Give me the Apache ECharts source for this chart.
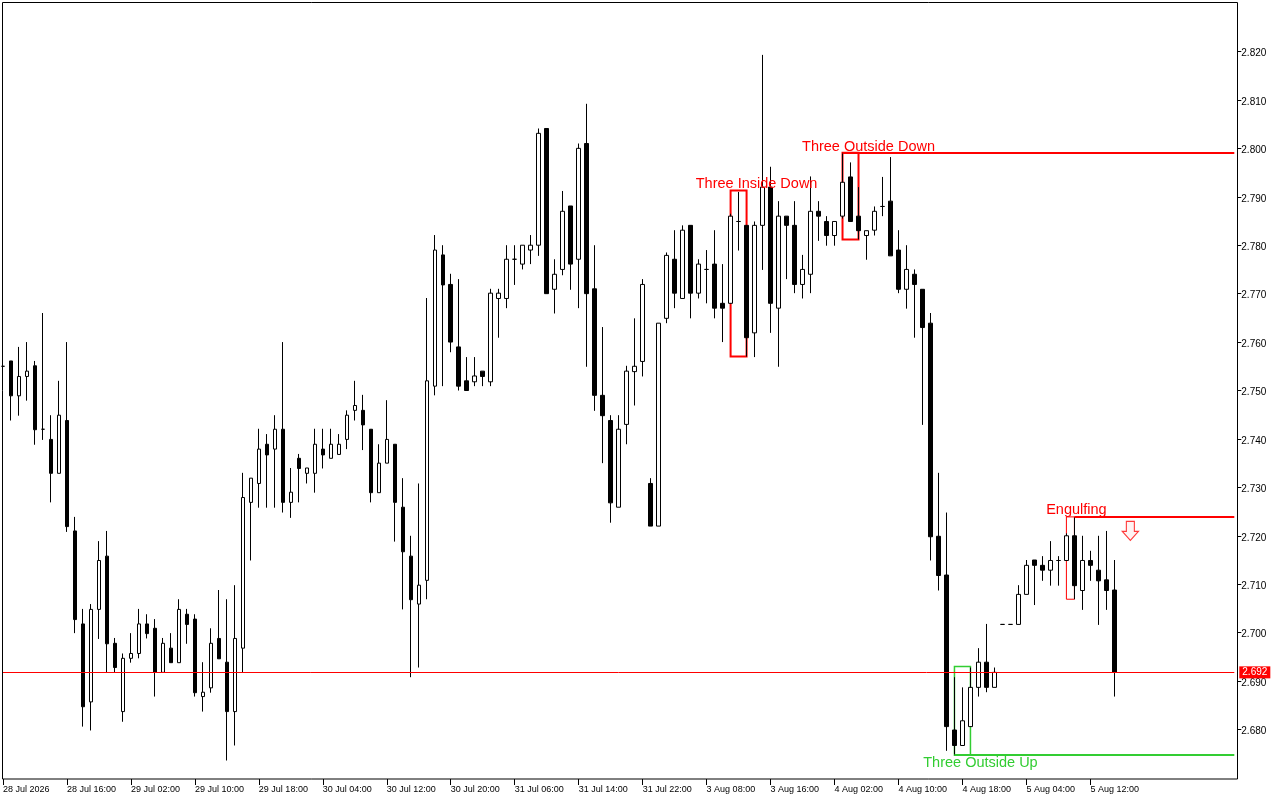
<!DOCTYPE html>
<html>
<head>
<meta charset="utf-8">
<script src="https://cdn.jsdelivr.net/npm/echarts@6/dist/echarts.min.js"></script>
<style>
  html, body { margin: 0; padding: 0; background: #fff; }
  #main { width: 1280px; height: 800px; }
</style>
</head>
<body>
<div id="main"></div>
<script>
// hourly candles, one tick label every 8 bars
const tickLabels = ["28 Jul 2026", "28 Jul 16:00", "29 Jul 02:00", "29 Jul 10:00", "29 Jul 18:00",
  "30 Jul 04:00", "30 Jul 12:00", "30 Jul 20:00", "31 Jul 06:00", "31 Jul 14:00", "31 Jul 22:00",
  "3 Aug 08:00", "3 Aug 16:00", "4 Aug 02:00", "4 Aug 10:00", "4 Aug 18:00", "5 Aug 04:00", "5 Aug 12:00"];

const opens = [2.7550, 2.7561, 2.7489, 2.7529, 2.7551, 2.7420, 2.7399, 2.7329, 2.7438, 2.7210,
  2.7018, 2.6857, 2.7048, 2.7158, 2.6978, 2.6837, 2.6947, 2.6957, 2.7018, 2.7009,
  2.6918, 2.6968, 2.6938, 2.7038, 2.7028, 2.6868, 2.6886, 2.6988, 2.6939, 2.6837,
  2.6968, 2.7269, 2.7308, 2.7389, 2.7379, 2.7420, 2.7269, 2.7360, 2.7329, 2.7329,
  2.7379, 2.7360, 2.7368, 2.7399, 2.7459, 2.7459, 2.7420, 2.7289, 2.7350, 2.7389,
  2.7259, 2.7158, 2.7059, 2.7108, 2.7509, 2.7780, 2.7719, 2.7590, 2.7520, 2.7518,
  2.7540, 2.7518, 2.7690, 2.7690, 2.7771, 2.7761, 2.7790, 2.7800, 2.8041, 2.7709,
  2.7750, 2.7881, 2.7771, 2.8010, 2.7710, 2.7490, 2.7438, 2.7259, 2.7430, 2.7539,
  2.7560, 2.7308, 2.7220, 2.7649, 2.7771, 2.7690, 2.7841, 2.7701, 2.7750, 2.7761,
  2.7680, 2.7680, 2.7849, 2.7841, 2.7619, 2.7841, 2.7920, 2.7670, 2.7860, 2.7841,
  2.7719, 2.7740, 2.7870, 2.7849, 2.7820, 2.7860, 2.7941, 2.7860, 2.7820, 2.7831,
  2.7880, 2.7891, 2.7790, 2.7709, 2.7740, 2.7709, 2.7639, 2.7199, 2.7119, 2.6799,
  2.6767, 2.6806, 2.6887, 2.6939, 2.6887, 2.7017, 2.7017, 2.7017, 2.7079, 2.7150,
  2.7139, 2.7129, 2.7149, 2.7149, 2.7200, 2.7087, 2.7149, 2.7129, 2.7109, 2.7088];

const highs = [2.7560, 2.7561, 2.7590, 2.7600, 2.7561, 2.7660, 2.7449, 2.7520, 2.7600, 2.7239,
  2.7049, 2.7059, 2.7189, 2.7210, 2.6989, 2.6957, 2.6999, 2.7049, 2.7038, 2.7028,
  2.6989, 2.6999, 2.7069, 2.7049, 2.7038, 2.6939, 2.7009, 2.7088, 2.7069, 2.7098,
  2.7330, 2.7319, 2.7421, 2.7410, 2.7449, 2.7600, 2.7340, 2.7369, 2.7340, 2.7421,
  2.7421, 2.7421, 2.7410, 2.7459, 2.7520, 2.7491, 2.7420, 2.7389, 2.7480, 2.7389,
  2.7319, 2.7200, 2.7308, 2.7691, 2.7821, 2.7800, 2.7741, 2.7730, 2.7569, 2.7569,
  2.7540, 2.7710, 2.7710, 2.7800, 2.7800, 2.7800, 2.7821, 2.8041, 2.8041, 2.7771,
  2.7912, 2.7881, 2.8010, 2.8092, 2.7800, 2.7631, 2.7449, 2.7449, 2.7551, 2.7649,
  2.7730, 2.7319, 2.7639, 2.7785, 2.7831, 2.7841, 2.7841, 2.7771, 2.7790, 2.7831,
  2.7761, 2.7865, 2.7910, 2.7841, 2.7849, 2.8193, 2.7962, 2.7891, 2.7860, 2.7891,
  2.7780, 2.7942, 2.7891, 2.7860, 2.7849, 2.7991, 2.7971, 2.7920, 2.7830, 2.7880,
  2.7941, 2.7982, 2.7831, 2.7800, 2.7750, 2.7709, 2.7660, 2.7330, 2.7248, 2.6908,
  2.6887, 2.6928, 2.6968, 2.7018, 2.6928, 2.7017, 2.7017, 2.7098, 2.7150, 2.7150,
  2.7158, 2.7189, 2.7158, 2.7205, 2.7239, 2.7200, 2.7169, 2.7200, 2.7210, 2.7150];

const lows = [2.7540, 2.7438, 2.7448, 2.7479, 2.7388, 2.7398, 2.7269, 2.7329, 2.7208, 2.6999,
  2.6806, 2.6798, 2.6987, 2.6918, 2.6918, 2.6816, 2.6938, 2.6947, 2.6988, 2.6868,
  2.6918, 2.6938, 2.6938, 2.6977, 2.6868, 2.6837, 2.6876, 2.6946, 2.6736, 2.6767,
  2.6918, 2.7149, 2.7258, 2.7258, 2.7258, 2.7248, 2.7237, 2.7269, 2.7308, 2.7289,
  2.7339, 2.7360, 2.7368, 2.7379, 2.7438, 2.7377, 2.7269, 2.7289, 2.7350, 2.7188,
  2.7048, 2.6908, 2.6928, 2.7069, 2.7490, 2.7509, 2.7579, 2.7500, 2.7500, 2.7509,
  2.7509, 2.7509, 2.7609, 2.7670, 2.7718, 2.7750, 2.7761, 2.7778, 2.7700, 2.7659,
  2.7738, 2.7708, 2.7670, 2.7549, 2.7458, 2.7350, 2.7227, 2.7259, 2.7389, 2.7469,
  2.7529, 2.7220, 2.7220, 2.7639, 2.7670, 2.7690, 2.7649, 2.7690, 2.7680, 2.7649,
  2.7600, 2.7680, 2.7789, 2.7570, 2.7569, 2.7749, 2.7619, 2.7549, 2.7730, 2.7701,
  2.7690, 2.7701, 2.7809, 2.7799, 2.7799, 2.7855, 2.7849, 2.7812, 2.7770, 2.7820,
  2.7860, 2.7778, 2.7701, 2.7669, 2.7609, 2.7429, 2.7149, 2.7087, 2.6756, 2.6747,
  2.6767, 2.6806, 2.6868, 2.6877, 2.6887, 2.7017, 2.7017, 2.7017, 2.7079, 2.7057,
  2.7107, 2.7097, 2.7097, 2.7149, 2.7069, 2.7047, 2.7107, 2.7016, 2.7047, 2.6868];

const closes = [2.7550, 2.7489, 2.7529, 2.7540, 2.7419, 2.7420, 2.7329, 2.7449, 2.7219, 2.7027,
  2.6847, 2.7048, 2.7149, 2.6977, 2.6928, 2.6947, 2.6957, 2.7018, 2.6998, 2.6918,
  2.6978, 2.6938, 2.7048, 2.7017, 2.6876, 2.6877, 2.6978, 2.6946, 2.6837, 2.6988,
  2.7279, 2.7319, 2.7379, 2.7367, 2.7420, 2.7269, 2.7290, 2.7339, 2.7340, 2.7389,
  2.7367, 2.7389, 2.7389, 2.7449, 2.7469, 2.7429, 2.7289, 2.7350, 2.7399, 2.7269,
  2.7167, 2.7068, 2.7098, 2.7520, 2.7790, 2.7718, 2.7600, 2.7509, 2.7500, 2.7530,
  2.7529, 2.7701, 2.7701, 2.7771, 2.7771, 2.7800, 2.7800, 2.8031, 2.7700, 2.7740,
  2.7870, 2.7761, 2.8000, 2.7700, 2.7490, 2.7448, 2.7268, 2.7420, 2.7540, 2.7550,
  2.7719, 2.7220, 2.7639, 2.7779, 2.7701, 2.7831, 2.7701, 2.7761, 2.7750, 2.7670,
  2.7670, 2.7860, 2.7849, 2.7609, 2.7841, 2.7920, 2.7680, 2.7860, 2.7841, 2.7719,
  2.7750, 2.7870, 2.7860, 2.7820, 2.7849, 2.7930, 2.7849, 2.7830, 2.7830, 2.7870,
  2.7880, 2.7778, 2.7709, 2.7750, 2.7719, 2.7630, 2.7198, 2.7118, 2.6806, 2.6767,
  2.6818, 2.6887, 2.6939, 2.6887, 2.6918, 2.7017, 2.7017, 2.7079, 2.7139, 2.7139,
  2.7129, 2.7149, 2.7149, 2.7200, 2.7097, 2.7149, 2.7139, 2.7107, 2.7087, 2.6918];

const priceTicks = [2.68, 2.69, 2.70, 2.71, 2.72, 2.73, 2.74, 2.75, 2.76, 2.77, 2.78, 2.79, 2.80, 2.81, 2.82];
const bidPrice = 2.6918;

// candle patterns found by the indicator
const patternNames = ["Three Inside Down", "Three Outside Down", "Engulfing", "Three Outside Up"];
const patternFirst = [91, 105, 133, 119];
const patternLast = [93, 107, 134, 121];
const patternHigh = [2.7913, 2.7991, 2.7239, 2.6930];
const patternLow = [2.7570, 2.7812, 2.7069, 2.6747];
const levelFrom = [null, 105, 134, 119];
const levelPrice = [null, 2.7991, 2.7239, 2.6747];
const signalBar = 141;
const signalPrice = 2.7210;

const slotCount = 155; // chart keeps empty space right of the last bar
const lastLabelSlot = 8 * (tickLabels.length - 1);
const RED = "#ff0000";
const GREEN = "#32cd32";
const patternColor = [RED, RED, RED, GREEN];
const patternBorder = [2, 2, 1, 1.5];
const labelShift = [[26, -6], [26, -6], [10, -7], [26, 8]];
const FONT = "Liberation Sans, Arial, sans-serif";

const slots = [];
for (let i = 0; i < slotCount; i++) slots.push(String(i));
const candles = opens.map((o, i) => [o, closes[i], lows[i], highs[i]]);

const areas = patternNames.map((n, i) => [
  { xAxis: patternFirst[i], yAxis: patternHigh[i],
    itemStyle: { color: "rgba(0,0,0,0)", borderColor: patternColor[i], borderWidth: patternBorder[i] } },
  { xAxis: patternLast[i], yAxis: patternLow[i] }
]);

const levels = [];
levelFrom.forEach((f, i) => {
  if (f === null) return;
  levels.push([
    { coord: [f, levelPrice[i]], lineStyle: { color: patternColor[i], width: 2, type: "solid" }, label: { show: false } },
    { coord: [slotCount - 1, levelPrice[i]] }
  ]);
});
levels.push({
  yAxis: bidPrice,
  lineStyle: { color: RED, width: 1, type: "solid" },
  label: {
    show: true, position: "end", distance: 5, formatter: bidPrice.toFixed(3),
    backgroundColor: RED, color: "#fff", fontSize: 10, fontFamily: FONT, padding: [1, 3, 1, 3]
  }
});

const notes = patternNames.map((n, i) => ({
  coord: [patternFirst[i], i === 3 ? patternLow[i] : patternHigh[i]],
  symbolSize: 0,
  label: {
    show: true, formatter: n, position: "inside", offset: labelShift[i],
    color: patternColor[i], fontSize: 14.5, fontFamily: FONT
  }
}));
notes.push({
  coord: [signalBar, signalPrice],
  symbol: "path://M4,0 L12,0 L12,10 L16,10 L8,19 L0,10 L4,10 Z",
  symbolSize: [16, 19],
  symbolKeepAspect: false,
  itemStyle: { color: "#fff4f4", borderColor: "#ff3a3a", borderWidth: 1.2 },
  label: { show: false }
});

const chart = echarts.init(document.getElementById("main"), null, { renderer: "canvas" });
chart.setOption({
  animation: false,
  backgroundColor: "#ffffff",
  grid: { left: 2.3, right: 45.7, top: 2, bottom: 21 },
  xAxis: {
    type: "category",
    data: slots,
    boundaryGap: false,
    axisLine: { show: false },
    axisTick: {
      show: true, length: 6, lineStyle: { color: "#000" },
      interval: (i) => i % 8 === 0 && i <= lastLabelSlot
    },
    axisLabel: {
      interval: (i) => i % 8 === 0 && i <= lastLabelSlot,
      formatter: (v, i) => tickLabels[i / 8] || "",
      align: "left", margin: 6, fontSize: 9, color: "#000", fontFamily: FONT
    },
    splitLine: { show: false }
  },
  yAxis: {
    type: "value",
    position: "right",
    offset: 3,
    min: 2.66978,
    max: 2.83022,
    splitLine: { show: false },
    axisLine: { show: false },
    axisTick: { show: true, length: 4, customValues: priceTicks, lineStyle: { color: "#000" } },
    axisLabel: {
      customValues: priceTicks,
      formatter: (v) => v.toFixed(3),
      margin: 4, fontSize: 10, color: "#000", fontFamily: FONT,
      verticalAlign: "top", lineHeight: 4
    }
  },
  graphic: [{
    type: "rect", z: 100, silent: true,
    shape: { x: 2.5, y: 2.5, width: 1235, height: 776.5 },
    style: { fill: "none", stroke: "#000", lineWidth: 1 }
  }],
  series: [{
    type: "candlestick",
    data: candles,
    barWidth: 4,
    clip: true,
    emphasis: { disabled: true },
    itemStyle: {
      color: "#ffffff", color0: "#000000",
      borderColor: "#000000", borderColor0: "#000000", borderColorDoji: "#000000",
      borderWidth: 1
    },
    markArea: { silent: true, data: areas },
    markLine: {
      silent: true, symbol: ["none", "none"], animation: false, precision: 4,
      lineStyle: { color: RED, width: 1, type: "solid" },
      data: levels
    },
    markPoint: { silent: true, animation: false, data: notes }
  }]
});
window.onresize = function () { chart.resize(); };
</script>
</body>
</html>
